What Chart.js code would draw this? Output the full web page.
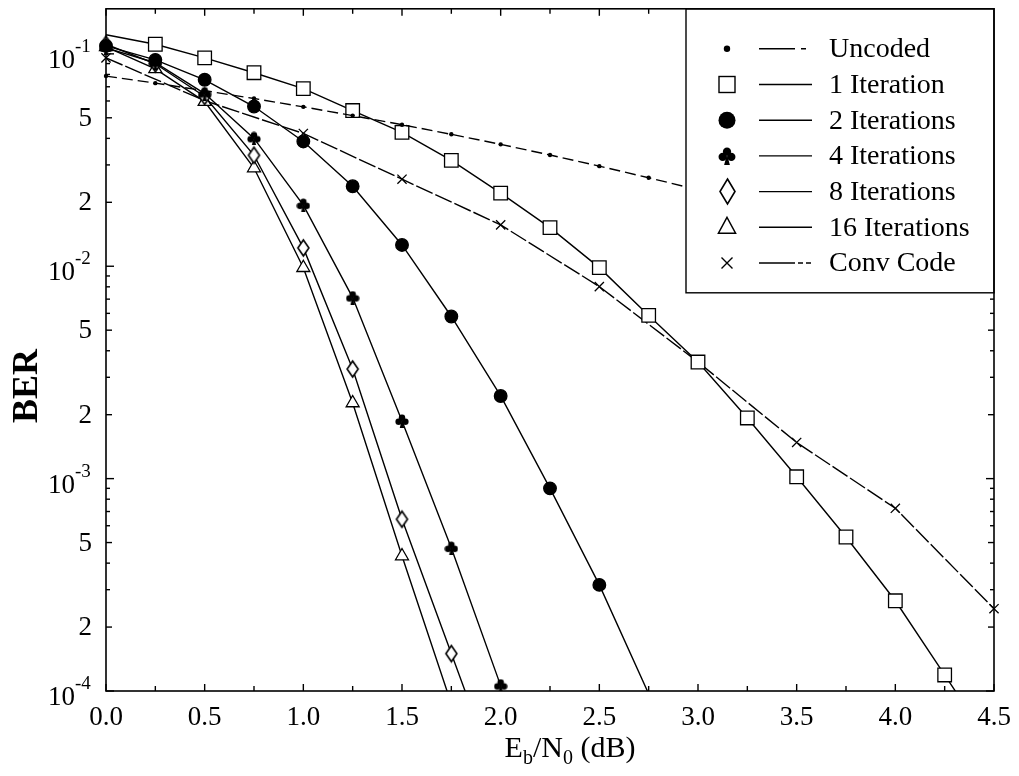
<!DOCTYPE html>
<html>
<head>
<meta charset="utf-8">
<title>BER vs Eb/N0</title>
<script src="https://cdn.jsdelivr.net/npm/chart.js@4.4.0/dist/chart.umd.min.js"></script>
<style>
  html, body { margin: 0; padding: 0; background: #fff; }
</style>
</head>
<body>
<canvas id="ber-chart" width="1019" height="776"></canvas>
<script>
// Eb/N0 grid (dB) used by most curves
const ebn0 = [0, 0.25, 0.5, 0.75, 1.0, 1.25, 1.5, 1.75, 2.0, 2.25, 2.5, 2.75, 3.0, 3.25, 3.5, 3.75, 4.0, 4.25, 4.5];
const convEbn0 = [0, 0.5, 1.0, 1.5, 2.0, 2.5, 3.0, 3.5, 4.0, 4.5];

// BER values
const uncoded = [0.0786, 0.0728, 0.0671, 0.0616, 0.0563, 0.0512, 0.0464, 0.0418, 0.0375, 0.0334, 0.0296, 0.0261, 0.0229, 0.0199, 0.0172, 0.0147, 0.0125, 0.0106, 0.0088];
const iter1 = [0.123, 0.111, 0.0958, 0.0815, 0.0686, 0.0541, 0.0427, 0.0315, 0.0221, 0.0152, 0.00985, 0.00587, 0.00354, 0.00193, 0.00102, 0.000531, 0.000266, 0.000119, 0.000053];
const iter2 = [0.109, 0.0937, 0.0755, 0.0565, 0.0387, 0.0238, 0.0126, 0.0058, 0.00245, 0.00090, 0.000316, 0.000097];
const iter4 = [0.1067, 0.0908, 0.065, 0.040, 0.0194, 0.00712, 0.00187, 0.000471, 0.000106];
const iter8 = [0.111, 0.0898, 0.063, 0.0333, 0.0122, 0.00328, 0.000644, 0.000150, 0.000035];
const iter16 = [0.1078, 0.085, 0.0596, 0.029, 0.00984, 0.00227, 0.000432, 0.000087];
const convCode = [0.0958, 0.0602, 0.0422, 0.0257, 0.01566, 0.00802, 0.00354, 0.00148, 0.000725, 0.000244];

const legendLabels = ['Uncoded', '1 Iteration', '2 Iterations', '4 Iterations', '8 Iterations', '16 Iterations', 'Conv Code'];

// axis ticks
const xTicks = [0, 0.5, 1.0, 1.5, 2.0, 2.5, 3.0, 3.5, 4.0, 4.5];
const xMinorTicks = [0.25, 0.75, 1.25, 1.75, 2.25, 2.75, 3.25, 3.75, 4.25];
const xTickLabels = ['0.0', '0.5', '1.0', '1.5', '2.0', '2.5', '3.0', '3.5', '4.0', '4.5'];
const yDecades = [1e-4, 1e-3, 1e-2, 1e-1];
const yMantissas = [2, 3, 4, 5, 6, 7, 8, 9];
const yLabelValues = [1e-4, 2e-4, 5e-4, 1e-3, 2e-3, 5e-3, 1e-2, 2e-2, 5e-2, 1e-1];
const yLabelTexts = ['10^-4', '2', '5', '10^-3', '2', '5', '10^-2', '2', '5', '10^-1'];

const Y_MIN = 1e-4;
const Y_MAX = 0.163;
const FONT = '"Liberation Serif", "Times New Roman", serif';

// custom marker shapes
function makeClub(s) {
    const c = document.createElement('canvas');
    c.width = s; c.height = s;
    const g = c.getContext('2d');
    g.fillStyle = '#000';
    const r = s * 0.23;
    [[s / 2, s * 0.26], [s * 0.26, s * 0.55], [s * 0.74, s * 0.55]].forEach(p => {
        g.beginPath(); g.arc(p[0], p[1], r, 0, Math.PI * 2); g.fill();
    });
    g.beginPath();
    g.moveTo(s / 2, s * 0.4);
    g.lineTo(s * 0.66, s);
    g.lineTo(s * 0.34, s);
    g.closePath();
    g.fill();
    return c;
}

function makeDiamond(w, h) {
    const c = document.createElement('canvas');
    c.width = w + 4; c.height = h + 4;
    const g = c.getContext('2d');
    const cx = c.width / 2, cy = c.height / 2;
    g.beginPath();
    g.moveTo(cx, cy - h / 2);
    g.lineTo(cx + w / 2, cy);
    g.lineTo(cx, cy + h / 2);
    g.lineTo(cx - w / 2, cy);
    g.closePath();
    g.fillStyle = '#fff';
    g.fill();
    g.lineWidth = 1.6;
    g.strokeStyle = '#000';
    g.stroke();
    return c;
}

const clubSmall = makeClub(14);
const clubBig = makeClub(18);
const diamondSmall = makeDiamond(11, 16);
const diamondBig = makeDiamond(15, 25);

function pts(xs, ys) {
    return ys.map((v, i) => ({ x: xs[i], y: v }));
}

// hide markers that fall below the plotted range
function radiusFor(r, skipFirst) {
    return ctx => {
        if (skipFirst && ctx.dataIndex === 0) return 0;
        return ctx.raw && ctx.raw.y < Y_MIN ? 0 : r;
    };
}

const seriesStyle = {
    borderColor: '#000',
    borderWidth: 1.4,
    pointBorderColor: '#000',
    pointBorderWidth: 1.3,
    tension: 0,
    clip: { left: 14, top: 0, right: 14, bottom: 0 },
};

const datasets = [
    { label: legendLabels[0], data: pts(ebn0, uncoded), borderDash: [11, 5], pointStyle: 'circle', pointRadius: radiusFor(2.2), pointBackgroundColor: '#000', pointBorderWidth: 0 },
    { label: legendLabels[1], data: pts(ebn0, iter1), pointStyle: 'rect', pointRadius: radiusFor(9.6, true), pointBackgroundColor: '#fff' },
    { label: legendLabels[2], data: pts(ebn0, iter2), pointStyle: 'circle', pointRadius: radiusFor(6.3), pointBackgroundColor: '#000' },
    { label: legendLabels[3], data: pts(ebn0, iter4), pointStyle: clubSmall, pointRadius: radiusFor(6) },
    { label: legendLabels[4], data: pts(ebn0, iter8), pointStyle: diamondSmall, pointRadius: radiusFor(6) },
    { label: legendLabels[5], data: pts(ebn0, iter16), pointStyle: 'triangle', pointRadius: radiusFor(7.5), pointBackgroundColor: '#fff' },
    { label: legendLabels[6], data: pts(convEbn0, convCode), borderDash: [18, 3], pointStyle: 'crossRot', pointRadius: radiusFor(6.5) },
].map(d => Object.assign({}, seriesStyle, d));

// legend sample config, same order as datasets
const legendMarkers = [
    { type: 'dot', r: 3.2 },
    { type: 'rect', s: 16 },
    { type: 'circle', r: 8.5 },
    { type: 'img', img: clubBig },
    { type: 'img', img: diamondBig },
    { type: 'triangle', r: 10 },
    { type: 'cross', r: 5.5 },
];
const legendDash = [[36, 6, 5, 8], [], [], [], [], [], [36, 3, 5, 3, 5, 3]];

function drawLegendMarker(ctx, m, x, y) {
    ctx.save();
    ctx.lineWidth = 1.4;
    ctx.strokeStyle = '#000';
    ctx.setLineDash([]);
    if (m.type === 'dot' || m.type === 'circle') {
        ctx.beginPath(); ctx.arc(x, y, m.r, 0, Math.PI * 2);
        ctx.fillStyle = '#000'; ctx.fill();
    } else if (m.type === 'rect') {
        ctx.fillStyle = '#fff';
        ctx.fillRect(x - m.s / 2, y - m.s / 2, m.s, m.s);
        ctx.strokeRect(x - m.s / 2, y - m.s / 2, m.s, m.s);
    } else if (m.type === 'img') {
        ctx.drawImage(m.img, Math.round(x - m.img.width / 2), Math.round(y - m.img.height / 2));
    } else if (m.type === 'triangle') {
        ctx.beginPath();
        ctx.moveTo(x, y - m.r);
        ctx.lineTo(x + m.r * 0.866, y + m.r * 0.6);
        ctx.lineTo(x - m.r * 0.866, y + m.r * 0.6);
        ctx.closePath();
        ctx.fillStyle = '#fff'; ctx.fill(); ctx.stroke();
    } else if (m.type === 'cross') {
        ctx.beginPath();
        ctx.moveTo(x - m.r, y - m.r); ctx.lineTo(x + m.r, y + m.r);
        ctx.moveTo(x + m.r, y - m.r); ctx.lineTo(x - m.r, y + m.r);
        ctx.stroke();
    }
    ctx.restore();
}

function line(ctx, x1, y1, x2, y2) {
    ctx.beginPath(); ctx.moveTo(x1, y1); ctx.lineTo(x2, y2); ctx.stroke();
}

// frame, inward ticks, labels, titles and the boxed legend
const framePlugin = {
    id: 'framePlugin',
    afterDatasetsDraw(chart) {
        const { ctx, chartArea: a, scales } = chart;
        const xs = scales.x, ys = scales.y;
        ctx.save();
        ctx.strokeStyle = '#000';
        ctx.fillStyle = '#000';
        ctx.lineWidth = 1.4;

        // legend background first covers curves running under it (also the sliver past the frame)
        const lx = a.right - 308, ly = a.top, lw = 308, lh = 284;
        ctx.fillStyle = '#fff';
        ctx.fillRect(lx, ly, lw + 8, lh);
        ctx.fillStyle = '#000';

        xTicks.forEach(v => {
            const px = xs.getPixelForValue(v);
            line(ctx, px, a.bottom, px, a.bottom - 7);
            if (px < lx) line(ctx, px, a.top, px, a.top + 7);
        });
        xMinorTicks.forEach(v => {
            const px = xs.getPixelForValue(v);
            line(ctx, px, a.bottom, px, a.bottom - 5);
            if (px < lx) line(ctx, px, a.top, px, a.top + 5);
        });
        yDecades.forEach(d => {
            const py = ys.getPixelForValue(d);
            line(ctx, a.left, py, a.left + 8, py);
            if (py > ly + lh) line(ctx, a.right, py, a.right - 8, py);
            yMantissas.forEach(m => {
                const v = d * m;
                if (v > Y_MAX) return;
                const p = ys.getPixelForValue(v);
                const len = (m === 2 || m === 5) ? 6 : 4;
                line(ctx, a.left, p, a.left + len, p);
                if (p > ly + lh) line(ctx, a.right, p, a.right - len, p);
            });
        });
        ctx.lineWidth = 1.6;
        ctx.strokeRect(a.left, a.top, a.width, a.height);

        // legend box
        ctx.lineWidth = 1.4;
        ctx.strokeRect(lx, ly, lw, lh);
        ctx.font = '28px ' + FONT;
        ctx.textAlign = 'left';
        ctx.textBaseline = 'middle';
        legendLabels.forEach((lab, i) => {
            const ry = ly + 40 + i * 35.7;
            drawLegendMarker(ctx, legendMarkers[i], lx + 41, ry);
            ctx.save();
            ctx.lineWidth = 1.4;
            ctx.setLineDash(legendDash[i]);
            line(ctx, lx + 73, ry, lx + 126, ry);
            ctx.restore();
            ctx.fillText(lab, lx + 143, ry + 1);
        });

        // x tick labels
        ctx.font = '27px ' + FONT;
        ctx.textAlign = 'center';
        ctx.textBaseline = 'middle';
        xTicks.forEach((v, i) => {
            ctx.fillText(xTickLabels[i], xs.getPixelForValue(v), a.bottom + 27);
        });

        // y tick labels
        yLabelValues.forEach((v, i) => {
            const py = ys.getPixelForValue(v);
            const t = yLabelTexts[i];
            if (t.indexOf('^') >= 0) {
                const parts = t.split('^');
                ctx.font = '27px ' + FONT;
                ctx.textAlign = 'right';
                ctx.fillText(parts[0], a.left - 31, py + 7);
                ctx.font = '19px ' + FONT;
                ctx.textAlign = 'left';
                ctx.fillText(parts[1], a.left - 31, py - 7);
            } else {
                ctx.font = '27px ' + FONT;
                ctx.textAlign = 'right';
                ctx.fillText(t, a.left - 14, py + 1);
            }
        });

        // x title: E_b/N_0 (dB)
        const pieces = [
            ['E', 30, 0], ['b', 20, 7], ['/N', 30, 0], ['0', 20, 7], [' (dB)', 30, 0],
        ];
        let total = 0;
        pieces.forEach(p => { ctx.font = p[1] + 'px ' + FONT; total += ctx.measureText(p[0]).width; });
        let cx = 570 - total / 2;
        ctx.textAlign = 'left';
        ctx.textBaseline = 'alphabetic';
        pieces.forEach(p => {
            ctx.font = p[1] + 'px ' + FONT;
            ctx.fillText(p[0], cx, 757 + p[2]);
            cx += ctx.measureText(p[0]).width;
        });

        // y title
        ctx.save();
        ctx.translate(28, 386);
        ctx.rotate(-Math.PI / 2);
        ctx.font = 'bold 36px ' + FONT;
        ctx.textAlign = 'center';
        ctx.textBaseline = 'middle';
        ctx.fillText('BER', 0, 0);
        ctx.restore();

        ctx.restore();
    },
};

const chartBer = new Chart(document.getElementById('ber-chart'), {
    type: 'line',
    data: { datasets },
    options: {
        responsive: false,
        animation: false,
        devicePixelRatio: 1,
        layout: { padding: { left: 106, top: 8, right: 25, bottom: 85 } },
        plugins: {
            legend: { display: false },
            tooltip: { enabled: false },
        },
        scales: {
            x: { type: 'linear', min: 0, max: 4.5, display: false },
            y: { type: 'logarithmic', min: Y_MIN, max: Y_MAX, display: false },
        },
    },
    plugins: [framePlugin],
});
</script>
</body>
</html>
